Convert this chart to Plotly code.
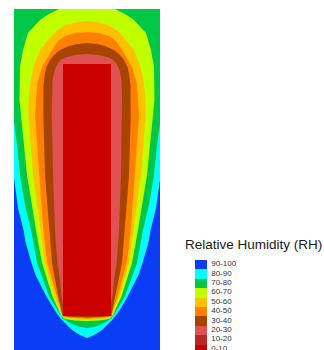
import plotly.graph_objects as go

# Relative humidity bands: each band is bounded by a symmetric outline given as
# depth below the top edge and half-width from the centre line.
bands = ["90-100", "80-90", "70-80", "60-70", "50-60",
         "40-50", "30-40", "20-30", "10-20", "0-10"]
band_colors = ["#0b3df7", "#00ffff", "#00c846", "#c0ff00", "#ffc000",
               "#ff8000", "#a64400", "#e05252", "#b82a2a", "#cc0000"]

# outline between 90-100 and 80-90
rh90_depth = [-9, 100, 150, 169, 185, 199, 221, 233, 254, 266, 288, 299, 304, 310, 316, 321, 326, 329]
rh90_half = [90, 80, 76, 73, 71, 69, 63.5, 61.5, 55.5, 51.5, 40.3, 34, 30.5, 26, 20, 15, 7, 0]

# outline between 80-90 and 70-80
rh80_depth = [-9, 60, 100, 113, 136, 166, 196, 221, 254, 288, 299, 304, 309, 313, 316, 318, 319]
rh80_half = [85, 79, 75, 73, 70, 67, 62, 56, 50, 37.7, 31, 28, 24.5, 19, 13, 7, 0]

# outline between 70-80 and 60-70
rh70_depth = [-12, -9, -5, 0, 5, 11, 24, 41, 58, 91, 106, 166, 221, 254, 288, 299, 304, 307, 310, 311.5, 312]
rh70_half = [0, 12, 20, 28, 38, 47, 59, 64, 67, 67.5, 66, 60, 51, 45, 34.3, 29, 27, 25.5, 22, 12, 0]

# outline between 60-70 and 50-60
rh60_depth = [12, 13, 16, 20, 24, 30, 41, 58, 75, 91, 106, 166, 221, 254, 288, 299, 304, 307, 309, 310.5, 311]
rh60_half = [0, 10, 21, 28, 33, 38, 47, 53.5, 57, 58.5, 58.7, 54, 46.5, 42, 32, 27.5, 26, 25, 21, 10, 0]

# outline between 50-60 and 40-50
rh50_depth = [23, 24, 27, 32, 41, 49, 58, 74, 91, 106, 166, 221, 254, 288, 299, 304, 307, 308.5, 309.5]
rh50_half = [0, 12, 22, 29, 35, 40, 45, 49.7, 51, 52, 47.7, 43.7, 39.7, 30.3, 26.5, 25.3, 24.5, 18, 0]

# outline between 40-50 and 30-40
rh40_depth = [34, 35, 37, 41, 46, 51, 58, 64, 76, 106, 166, 221, 254, 288, 299, 304, 307, 308, 308.5]
rh40_half = [0, 10, 18, 27, 33, 37, 40.5, 42, 43.5, 43.7, 42, 37.7, 35, 28.7, 25.8, 24.8, 24.3, 15, 0]

# outline between 30-40 and 20-30
rh30_depth = [45, 46, 48, 50, 54, 61, 71, 91, 106, 166, 221, 254, 271, 288, 296, 300, 303]
rh30_half = [0, 12, 20, 25, 29, 32.5, 34.5, 35, 35.3, 34, 32, 29.7, 27, 25.3, 24, 22, 0]

# driest core, 0-10
core_depth = [55, 307]
core_half = [24, 24]

outlines = [
    (rh90_depth, rh90_half, band_colors[1]),
    (rh80_depth, rh80_half, band_colors[2]),
    (rh70_depth, rh70_half, band_colors[3]),
    (rh60_depth, rh60_half, band_colors[4]),
    (rh50_depth, rh50_half, band_colors[5]),
    (rh40_depth, rh40_half, band_colors[6]),
    (rh30_depth, rh30_half, band_colors[7]),
]

fig = go.Figure()

for depth, half, color in outlines:
    xs = [-h for h in half] + [h for h in reversed(half)]
    ys = list(depth) + list(reversed(depth))
    fig.add_trace(go.Scatter(x=xs, y=ys, mode="lines", fill="toself",
                             fillcolor=color, line=dict(width=0, color=color),
                             hoverinfo="skip", showlegend=False))

core_x = [-core_half[0], core_half[0], core_half[1], -core_half[1]]
core_y = [core_depth[0], core_depth[0], core_depth[1], core_depth[1]]
fig.add_trace(go.Scatter(x=core_x, y=core_y, mode="lines", fill="toself",
                         fillcolor=band_colors[9], line=dict(width=0, color=band_colors[9]),
                         hoverinfo="skip", showlegend=False))

# colour key as a column of stacked swatches with range labels beside them
key_pos = list(range(len(bands)))[::-1]
fig.add_trace(go.Bar(x=[1] * len(bands), y=key_pos, orientation="h", width=1,
                     marker=dict(color=band_colors, line=dict(width=0)),
                     xaxis="x2", yaxis="y2", hoverinfo="skip", showlegend=False))
fig.add_trace(go.Scatter(x=[1.35] * len(bands), y=key_pos, mode="text", text=bands,
                         textposition="middle right", cliponaxis=False,
                         textfont=dict(family="Liberation Sans, Arial", size=8, color="#333333"),
                         xaxis="x2", yaxis="y2", hoverinfo="skip", showlegend=False))

W, H = 324, 350
fig.update_layout(
    width=W, height=H,
    margin=dict(l=0, r=0, t=0, b=0),
    paper_bgcolor="white",
    plot_bgcolor="white",
    xaxis=dict(domain=[14 / W, 160 / W], range=[-73, 73], showgrid=False,
               zeroline=False, showticklabels=False, ticks="", fixedrange=True),
    yaxis=dict(domain=[0, 1 - 9 / H], range=[341, 0], showgrid=False,
               zeroline=False, showticklabels=False, ticks="", fixedrange=True),
    xaxis2=dict(domain=[195 / W, 243 / W], range=[0, 4], anchor="y2",
                showgrid=False, zeroline=False, showticklabels=False, ticks=""),
    yaxis2=dict(domain=[0, (H - 259.6) / H], range=[-0.117, 9.5], anchor="x2",
                showgrid=False, zeroline=False, showticklabels=False, ticks=""),
    bargap=0,
    # wettest band (90-100) fills the whole field behind the outlines
    shapes=[dict(type="rect", xref="x domain", yref="y domain", x0=0, x1=1, y0=0, y1=1,
                 fillcolor=band_colors[0], line=dict(width=0), layer="below")],
    annotations=[dict(text="Relative Humidity (RH)", xref="paper", yref="paper",
                      x=183 / W, y=1 - 244 / H, xanchor="left", yanchor="middle",
                      showarrow=False,
                      font=dict(family="Liberation Sans, Arial", size=13.5, color="#1a1a1a"))],
)

fig.write_html("out.html")
